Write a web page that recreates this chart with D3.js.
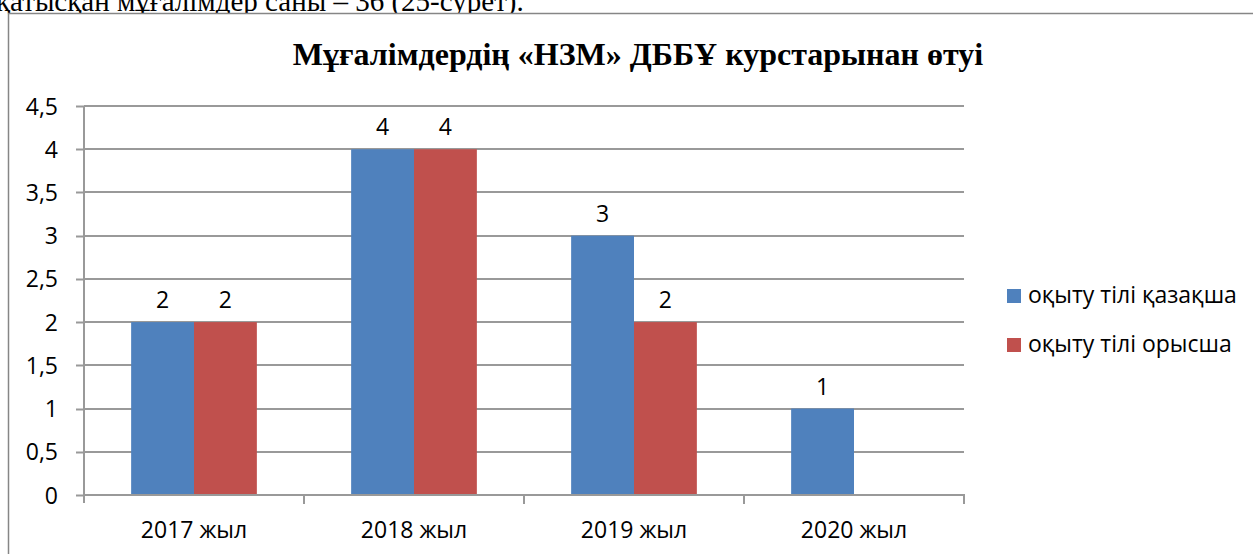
<!DOCTYPE html>
<html>
<head>
<meta charset="utf-8">
<script src="https://cdn.jsdelivr.net/npm/d3@7"></script>
<style>
  body { margin: 0; background: #fff; overflow: hidden; }
  .tick text { font-family: "Open Sans", "Noto Sans", sans-serif; font-size: 23px; fill: #000; }
</style>
</head>
<body>
<div id="chart"></div>
<script>
const categories = ['2017 жыл', '2018 жыл', '2019 жыл', '2020 жыл'];
const seriesNames = ['оқыту тілі қазақша', 'оқыту тілі орысша'];
const kazakh = [2, 4, 3, 1];
const russian = [2, 4, 2, null];
const yTicks = [0, 0.5, 1, 1.5, 2, 2.5, 3, 3.5, 4, 4.5];
const colors = ['#4F81BD', '#C0504D'];

const width = 1253, height = 554;
const margin = { top: 106, right: 289, bottom: 59, left: 84 };
const gridColor = '#999999';

const svg = d3.select('#chart').append('svg')
    .attr('width', width)
    .attr('height', height);

// text of the document above the chart, cut off at the top
svg.append('text')
    .attr('x', -4)
    .attr('y', 11)
    .style('font-family', '"Liberation Serif", serif')
    .style('font-size', '29px')
    .text('қатысқан мұғалімдер саны – 36 (25-сурет).');

// chart frame
svg.append('rect')
    .attr('x', 8.5)
    .attr('y', 13.5)
    .attr('width', 1260)
    .attr('height', 560)
    .attr('fill', '#fff')
    .attr('stroke', '#868686')
    .attr('stroke-width', 1.5);

svg.append('text')
    .attr('x', 638)
    .attr('y', 65)
    .attr('text-anchor', 'middle')
    .style('font-family', '"Liberation Serif", serif')
    .style('font-weight', 'bold')
    .style('font-size', '32px')
    .text('Мұғалімдердің «НЗМ» ДББҰ курстарынан өтуі');

// band = 2 bars, gap 150% of bar width
const step = (width - margin.right - margin.left) / categories.length;
const groupW = step * 2 / 3.5;

const x1 = d3.scaleBand()
    .domain([0, 1])
    .range([0, groupW]);

const y = d3.scaleLinear()
    .domain([0, 4.5])
    .range([height - margin.bottom, margin.top]);

// gridlines
svg.append('g')
    .attr('class', 'grid')
    .selectAll('line')
    .data(yTicks.slice(1))
    .enter()
    .append('line')
    .attr('x1', margin.left)
    .attr('x2', width - margin.right)
    .attr('y1', d => Math.round(y(d)))
    .attr('y2', d => Math.round(y(d)))
    .attr('stroke', gridColor)
    .attr('stroke-width', 2);

const rows = categories.map((c, i) => ({ cat: c, values: [kazakh[i], russian[i]] }));

const groups = svg.selectAll('g.group')
    .data(rows)
    .enter()
    .append('g')
    .attr('class', 'group')
    .attr('transform', (d, i) => `translate(${margin.left + step * i + (step - groupW) / 2},0)`);

groups.selectAll('rect')
    .data(d => d.values.map((v, j) => ({ v, j })).filter(e => e.v != null))
    .enter()
    .append('rect')
    .attr('x', d => x1(d.j))
    .attr('width', x1.bandwidth())
    .attr('y', d => y(d.v))
    .attr('height', d => y(0) - y(d.v))
    .attr('fill', d => colors[d.j]);

groups.selectAll('text.valueLabel')
    .data(d => d.values.map((v, j) => ({ v, j })).filter(e => e.v != null))
    .enter()
    .append('text')
    .attr('class', 'valueLabel')
    .attr('x', d => x1(d.j) + x1.bandwidth() / 2)
    .attr('y', d => y(d.v) - 14)
    .attr('text-anchor', 'middle')
    .style('font-family', '"Open Sans", "Noto Sans", sans-serif')
    .style('font-size', '23px')
    .text(d => d.v);

// y axis
const yAxis = d3.axisLeft(y)
    .tickValues(yTicks)
    .tickSize(8)
    .tickPadding(18)
    .tickFormat(d => d3.format('')(d).replace('.', ','));

const ya = svg.append('g')
    .attr('transform', `translate(${margin.left},0)`)
    .call(yAxis);
ya.selectAll('path, line').attr('stroke', gridColor).attr('stroke-width', 2);
ya.select('.domain').attr('d', `M0,${y(4.5)}V${y(0) + 8}`);
ya.selectAll('.tick line').attr('transform', (d) => `translate(0,${Math.round(y(d)) - y(d)})`);
ya.selectAll('.tick text').attr('dy', '0.35em');

// x axis
const xs = d3.scaleLinear().domain([0, categories.length]).range([margin.left, width - margin.right]);
const xa = svg.append('g')
    .attr('transform', `translate(0,${Math.round(y(0))})`);
xa.append('line')
    .attr('x1', margin.left)
    .attr('x2', width - margin.right + 1)
    .attr('stroke', gridColor)
    .attr('stroke-width', 2);
xa.selectAll('line.tk')
    .data(d3.range(1, categories.length + 1))
    .enter()
    .append('line')
    .attr('class', 'tk')
    .attr('x1', d => Math.round(xs(d)))
    .attr('x2', d => Math.round(xs(d)))
    .attr('y2', 9)
    .attr('stroke', gridColor)
    .attr('stroke-width', 2);
xa.selectAll('text')
    .data(categories)
    .enter()
    .append('text')
    .attr('x', (d, i) => xs(i + 0.5))
    .attr('y', 43)
    .attr('text-anchor', 'middle')
    .style('font-family', '"Open Sans", "Noto Sans", sans-serif')
    .style('font-size', '23px')
    .text(d => d);

// legend
const legend = svg.selectAll('g.legend')
    .data(seriesNames)
    .enter()
    .append('g')
    .attr('class', 'legend')
    .attr('transform', (d, i) => `translate(1007,${289 + i * 49})`);
legend.append('rect')
    .attr('width', 14)
    .attr('height', 14)
    .attr('fill', (d, i) => colors[i]);
legend.append('text')
    .attr('x', 21)
    .attr('y', 14)
    .style('font-family', '"Open Sans", "Noto Sans", sans-serif')
    .style('font-size', '23px')
    .text(d => d);
</script>
</body>
</html>
